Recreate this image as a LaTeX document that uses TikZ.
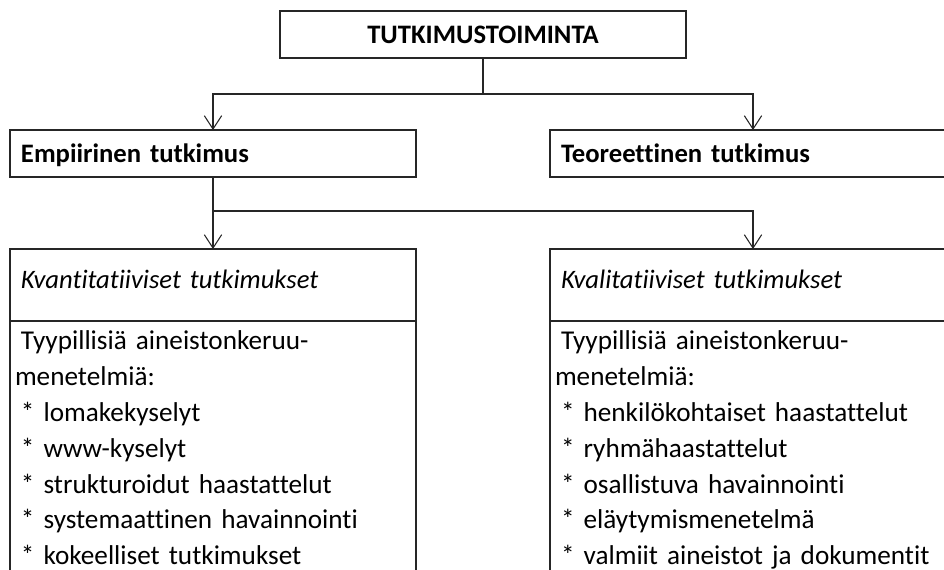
\documentclass[tikz,border=0pt]{standalone}
\usepackage{fontspec}
\setmainfont{Carlito}[Ligatures=NoCommon]
\usepackage{tikz}
\usetikzlibrary{arrows.meta,positioning}
\definecolor{boxline}{RGB}{38,38,38}
\newcommand{\lsp}{\hspace*{4.5pt}}

\begin{document}
\begin{tikzpicture}[
  x=0.75pt, y=-0.75pt,
  every node/.style={font=\fontsize{20}{26.85}\selectfont},
  chartbox/.style={draw=boxline, line width=1pt, anchor=north west, inner ysep=0pt, outer sep=0pt},
  titlebox/.style={chartbox, minimum height=35.25pt, text width=288pt, inner xsep=8.25pt, align=left, text height=14pt, text depth=0pt, font=\fontsize{20}{26.85}\selectfont\bfseries},
  topbox/.style={titlebox, align=center},
  headbox/.style={chartbox, minimum height=54pt, text width=288pt, inner xsep=8.25pt, align=left, text height=13pt, text depth=8.5pt, font=\fontsize{20}{26.85}\selectfont\itshape},
  bodybox/.style={chartbox, text width=297pt, inner xsep=3.75pt, inner ysep=7.5pt, align=left, font=\fontsize{20.4}{26.85}\selectfont},
  conn/.style={draw=boxline, line width=0.8pt, -{Straight Barb[length=10pt,width=13pt]}}
]
\clip (0,0) rectangle (944,569);

% boxes
\node[topbox] (top) at (280,11) {TUTKIMUSTOIMINTA};
\node[titlebox] (emp) at (10,130) {Empiirinen tutkimus};
\node[titlebox] (teo) at (550,130) {Teoreettinen tutkimus};
\node[headbox] (kvant) at (10,249) {Kvantitatiiviset tutkimukset};
\node[headbox] (kval) at (550,249) {Kvalitatiiviset tutkimukset};
\node[bodybox, below right=0pt and 0pt of kvant.south west] (kvantbody) {%
  \lsp Tyypillisiä aineistonkeruu-\\
  menetelmiä:\\
  \lsp * lomakekyselyt\\
  \lsp * www-kyselyt\\
  \lsp * strukturoidut haastattelut\\
  \lsp * systemaattinen havainnointi\\
  \lsp * kokeelliset tutkimukset\\
  \lsp};
\node[bodybox, below right=0pt and 0pt of kval.south west] (kvalbody) {%
  \lsp Tyypillisiä aineistonkeruu-\\
  menetelmiä:\\
  \lsp * henkilökohtaiset haastattelut\\
  \lsp * ryhmähaastattelut\\
  \lsp * osallistuva havainnointi\\
  \lsp * eläytymismenetelmä\\
  \lsp * valmiit aineistot ja dokumentit\\
  \lsp};

% connectors
\draw[conn] (top.south) -- ++(0,36) -| (emp.north);
\draw[conn] (top.south) -- ++(0,36) -| (teo.north);
\draw[conn] (emp.south) -- ++(0,34) -| (kvant.north);
\draw[conn] (emp.south) -- ++(0,34) -| (kval.north);
\end{tikzpicture}
\end{document}
